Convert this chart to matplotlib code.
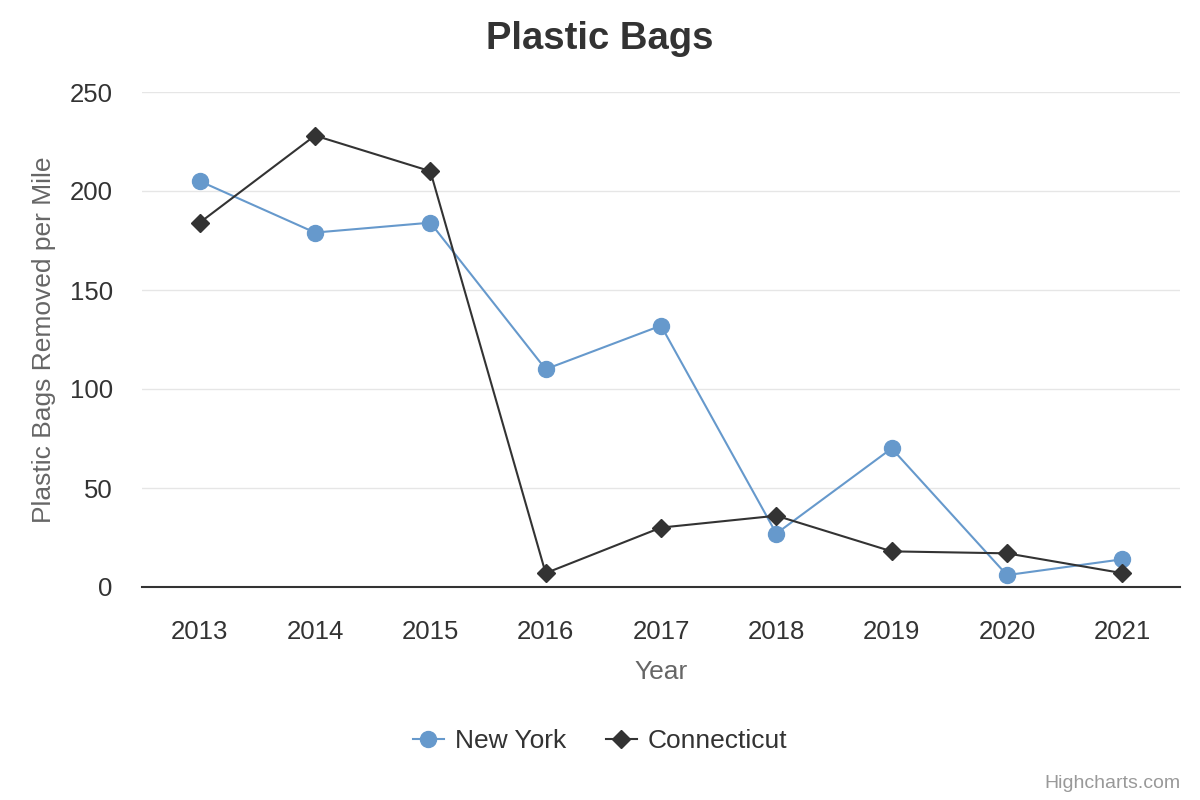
import matplotlib.pyplot as plt

plt.rcParams['font.family'] = ['Liberation Sans', 'DejaVu Sans']

years = ['2013', '2014', '2015', '2016', '2017', '2018', '2019', '2020', '2021']
new_york = [205, 179, 184, 110, 132, 27, 70, 6, 14]
connecticut = [184, 228, 210, 7, 30, 36, 18, 17, 7]

fig = plt.figure(figsize=(12, 8), dpi=100)
ax = fig.add_axes([142 / 1200, 1 - 587 / 800, 1038 / 1200, 495 / 800])

x = range(len(years))
ax.plot(x, new_york, color='#6699cc', lw=1.5, marker='o', markersize=11.5,
        label='New York', zorder=3)
ax.plot(x, connecticut, color='#333333', lw=1.5, marker='D', markersize=9,
        label='Connecticut', zorder=3)

ax.set_xlim(-0.5, len(years) - 0.5)
ax.set_ylim(0, 250)
ax.set_yticks([0, 50, 100, 150, 200, 250])
ax.set_xticks(list(x))
ax.set_xticklabels(years)
ax.grid(axis='y', color='#e6e6e6', lw=1)
ax.set_axisbelow(True)
for s in ['top', 'right', 'left']:
    ax.spines[s].set_visible(False)
ax.spines['bottom'].set_color('#333333')
ax.spines['bottom'].set_linewidth(1.5)
ax.tick_params(axis='both', length=0, labelsize=18.5, colors='#333333')
ax.tick_params(axis='x', pad=24)
ax.tick_params(axis='y', pad=21)

ax.set_xlabel('Year', fontsize=19, color='#666666', labelpad=11.5)
ax.set_ylabel('Plastic Bags Removed per Mile', fontsize=19, color='#666666', labelpad=10)
fig.text(0.5, 1 - 39 / 800, 'Plastic Bags', ha='center', va='center',
         fontsize=27.5, fontweight='bold', color='#333333')

fig.legend(loc='center', bbox_to_anchor=(0.5, 1 - 741 / 800), ncol=2, frameon=False,
           fontsize=19, labelcolor='#333333', handlelength=1.2, columnspacing=1.5,
           handletextpad=0.4)
fig.text(1180 / 1200, 1 - 784 / 800, 'Highcharts.com', ha='right', va='center',
         fontsize=14, color='#999999')

fig.savefig('out.png', dpi=100)
